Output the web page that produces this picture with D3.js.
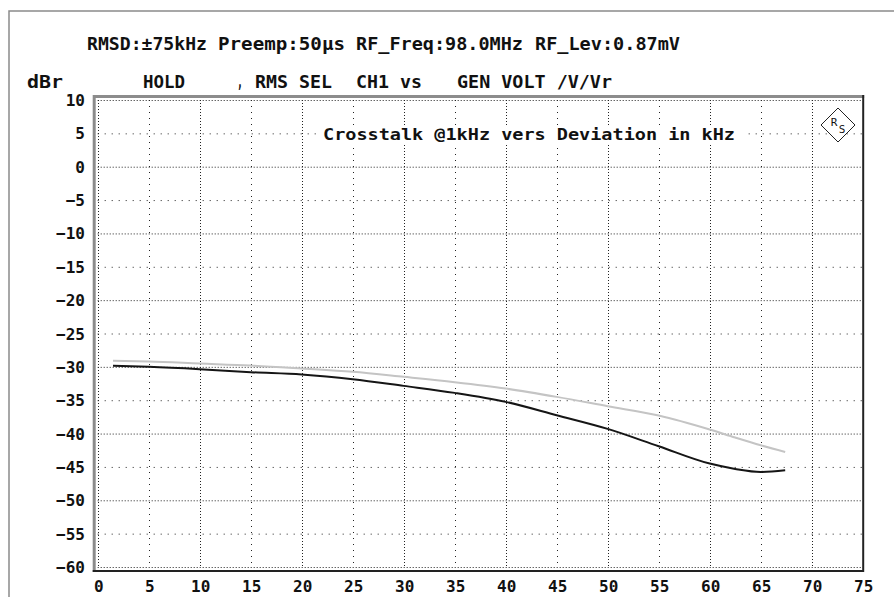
<!DOCTYPE html>
<head>
<meta charset="utf-8">
<title>Crosstalk vs Deviation</title>
<style>
body { margin: 0; background: #fff; }
text {
  fill: #111;
  font-family: "DejaVu Sans Mono", "Liberation Mono", monospace;
  font-weight: bold;
}
</style>
</head>
<body>
<script src="https://cdn.jsdelivr.net/npm/d3@7"></script>
<script>

// deviation in kHz (x) and crosstalk in dBr for the two traces
var deviation = [1.5, 5, 10, 15, 20, 25, 30, 35, 40, 45, 50, 55, 60, 62.5, 65, 67.4];
var crosstalkDark = [-29.85, -30.0, -30.35, -30.8, -31.15, -31.85, -32.85, -33.9, -35.25, -37.25, -39.3, -41.9, -44.5, -45.3, -45.75, -45.5];
var crosstalkLight = [-29.1, -29.2, -29.5, -29.8, -30.25, -30.75, -31.5, -32.3, -33.25, -34.5, -35.9, -37.3, -39.4, -40.6, -41.75, -42.75];

var xTicks = d3.range(0, 80, 5);
var yTicks = d3.range(-60, 15, 5);

var headerParts = [
  {text: "RMSD:±75kHz", x: 87, w: 120},
  {text: "Preemp:50µs", x: 218, w: 127},
  {text: "RF_Freq:98.0MHz", x: 356, w: 167},
  {text: "RF_Lev:0.87mV", x: 535, w: 145}
];
var subParts = [
  {text: "dBr", x: 27, w: 36},
  {text: "HOLD", x: 143, w: 42},
  {text: ",", x: 237, w: 6},
  {text: "RMS SEL", x: 255, w: 77},
  {text: "CH1 vs", x: 356, w: 66},
  {text: "GEN VOLT /V/Vr", x: 457, w: 155}
];
var title = "Crosstalk @1kHz vers Deviation in kHz";

var width = 894,
    height = 597;

var svg = d3.select("body").append("svg")
    .attr("width", width)
    .attr("height", height);

var x = d3.scaleLinear().domain([0, 75]).range([97.7, 862.7]);
var y = d3.scaleLinear().domain([-60, 10]).range([567, 100]);

// outer frame (only top / left visible)
svg.append("path")
    .attr("d", "M9," + height + "V11H" + width)
    .attr("fill", "none")
    .attr("stroke", "#8a8a8a")
    .attr("stroke-width", 1.5);

// header lines
svg.selectAll(".hdr")
    .data(headerParts)
    .enter().append("text")
    .attr("class", "hdr")
    .attr("x", function(d) { return d.x; })
    .attr("y", 50)
    .attr("textLength", function(d) { return d.w; })
    .attr("lengthAdjust", "spacingAndGlyphs")
    .style("font-size", "17px")
    .text(function(d) { return d.text; });

svg.selectAll(".sub")
    .data(subParts)
    .enter().append("text")
    .attr("class", "sub")
    .attr("x", function(d) { return d.x; })
    .attr("y", 88)
    .attr("textLength", function(d) { return d.w; })
    .attr("lengthAdjust", "spacingAndGlyphs")
    .style("font-size", "17px")
    .text(function(d) { return d.text; });

var x0 = x.range()[0], x1 = x.range()[1];
var yTop = y(10), yBot = y(-60);

// grid
var grid = svg.append("g");
grid.selectAll(".hgrid")
    .data(yTicks)
    .enter().append("line")
    .attr("x1", x0)
    .attr("x2", x1)
    .attr("y1", function(d) { return y(d) + 0.5; })
    .attr("y2", function(d) { return y(d) + 0.5; })
    .attr("stroke", "#222")
    .attr("stroke-width", 1)
    .attr("stroke-dasharray", function(d) { return d % 10 == 0 ? "1,2" : "1,6"; });

grid.selectAll(".vgrid")
    .data(xTicks)
    .enter().append("line")
    .attr("x1", function(d) { return Math.round(x(d)) + 0.5; })
    .attr("x2", function(d) { return Math.round(x(d)) + 0.5; })
    .attr("y1", yTop)
    .attr("y2", yBot)
    .attr("stroke", "#222")
    .attr("stroke-width", 1)
    .attr("stroke-dasharray", function(d) { return d % 10 == 0 ? "1,2" : "1,5"; });

// plot frame
svg.append("path")
    .attr("d", "M" + (x0 - 3.5) + "," + (yBot + 5) + "V" + (yTop - 3.5) + "H" + (x1 + 1.5))
    .attr("fill", "none")
    .attr("stroke", "#8c8c8c")
    .attr("stroke-width", 3);
svg.append("path")
    .attr("d", "M" + (x0 - 5) + "," + (yBot + 4) + "H" + (x1 + 0.5) + "V" + (yTop - 5))
    .attr("fill", "none")
    .attr("stroke", "#222")
    .attr("stroke-width", 2);

// title with white backing
svg.append("rect")
    .attr("x", 318)
    .attr("y", 125)
    .attr("width", 430)
    .attr("height", 19)
    .attr("fill", "#fff");
svg.append("text")
    .attr("x", 323)
    .attr("y", 140)
    .attr("textLength", 412)
    .attr("lengthAdjust", "spacingAndGlyphs")
    .style("font-size", "16px")
    .text(title);

// R&S logo
var logo = svg.append("g").attr("transform", "translate(838,125)");
logo.append("path")
    .attr("d", "M0,-17L17,0L0,17L-17,0Z")
    .attr("fill", "#fff")
    .attr("stroke", "#222")
    .attr("stroke-width", 1);
logo.append("text")
    .attr("x", -4)
    .attr("y", 1)
    .attr("text-anchor", "middle")
    .style("font-size", "11px")
    .style("font-weight", "normal")
    .text("R");
logo.append("text")
    .attr("x", 4)
    .attr("y", 8)
    .attr("text-anchor", "middle")
    .style("font-size", "11px")
    .style("font-weight", "normal")
    .text("S");

// axis labels
svg.selectAll(".ylab")
    .data(yTicks)
    .enter().append("text")
    .attr("class", "ylab")
    .attr("x", 85)
    .attr("y", function(d) { return y(d) + 6; })
    .attr("text-anchor", "end")
    .style("font-size", "16px")
    .text(function(d) { return d3.format("d")(d); });

svg.selectAll(".xlab")
    .data(xTicks)
    .enter().append("text")
    .attr("class", "xlab")
    .attr("x", function(d) { return x(d) + 1; })
    .attr("y", 592)
    .attr("text-anchor", "middle")
    .style("font-size", "16px")
    .text(function(d) { return d; });

// traces
var series = [
  {values: crosstalkLight, color: "#c4c4c4"},
  {values: crosstalkDark, color: "#151515"}
];

var line = d3.line()
    .x(function(d) { return x(d[0]); })
    .y(function(d) { return y(d[1]); })
    .curve(d3.curveMonotoneX);

svg.selectAll(".trace")
    .data(series)
    .enter().append("path")
    .attr("class", "trace")
    .attr("fill", "none")
    .attr("stroke", function(d) { return d.color; })
    .attr("stroke-width", 2)
    .attr("d", function(d) {
      return line(deviation.map(function(k, i) { return [k, d.values[i]]; }));
    });

</script>
</body>
</html>
